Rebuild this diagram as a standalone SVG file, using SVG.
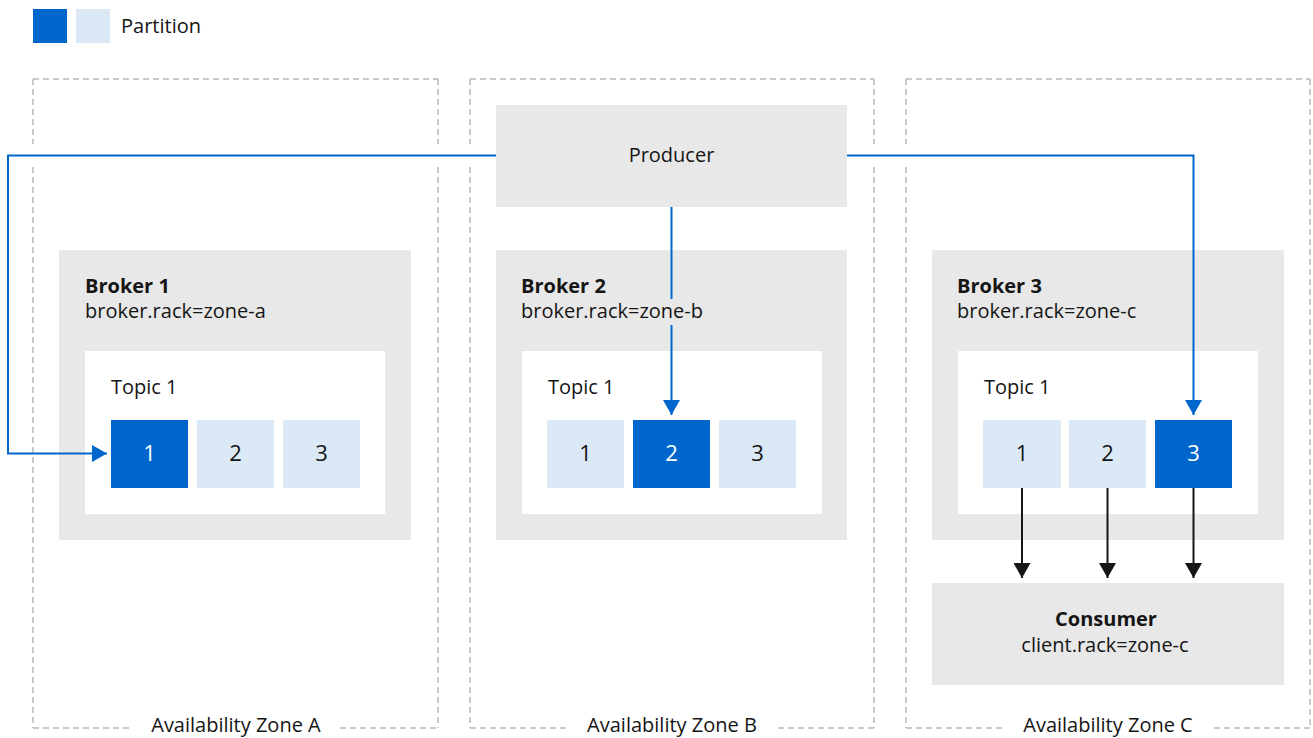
<svg xmlns="http://www.w3.org/2000/svg" width="1313" height="738" viewBox="0 0 1313 738">
  <style>
    text { font-family: "Open Sans", "Noto Sans", sans-serif; fill: #151515; font-weight: 500; }
    .lbl { font-size: 20px; }
    .bold { font-size: 20px; font-weight: 700; }
    .num { font-size: 22px; text-anchor: middle; }
    .numw { font-size: 22px; text-anchor: middle; fill: #ffffff; }
    .mid { text-anchor: middle; }
    .zone { fill: none; stroke: #b8b8b8; stroke-width: 1.5; stroke-dasharray: 6 4; }
    .gray { fill: #e8e8e8; }
    .white { fill: #ffffff; }
    .dark { fill: #0066cc; }
    .light { fill: #dbe8f6; }
    .blue { fill: none; stroke: #0066cc; stroke-width: 2; }
    .black { fill: none; stroke: #151515; stroke-width: 2; }
  </style>
  <defs>
    <marker id="ab" markerUnits="userSpaceOnUse" markerWidth="16" markerHeight="17" refX="15" refY="8.5" orient="auto">
      <path d="M0,0 L15,8.5 L0,17 Z" fill="#0066cc"/>
    </marker>
    <marker id="ak" markerUnits="userSpaceOnUse" markerWidth="16" markerHeight="17" refX="15" refY="8.5" orient="auto">
      <path d="M0,0 L15,8.5 L0,17 Z" fill="#151515"/>
    </marker>
  </defs>
  <rect width="1313" height="738" fill="#ffffff"/>

  <g id="legend">
    <rect class="dark" x="33" y="9" width="34" height="34"/>
    <rect class="light" x="76" y="9" width="34" height="34"/>
    <text class="lbl" x="121" y="33">Partition</text>
  </g>

  <g id="zone-a">
    <path class="zone" d="M33,79 H438 M33,79 V144 M33,167 V728 M438,79 V144 M438,167 V728 M33,728 H130 M340,728 H438"/>
    <text class="lbl mid" x="236" y="732">Availability Zone A</text>
  </g>
  <g id="zone-b">
    <path class="zone" d="M470,79 H874 M470,79 V144 M470,167 V728 M874,79 V144 M874,167 V728 M470,728 H566 M778,728 H874"/>
    <text class="lbl mid" x="672" y="732">Availability Zone B</text>
  </g>
  <g id="zone-c">
    <path class="zone" d="M906,79 H1310 M906,79 V144 M906,167 V728 M1310,79 V728 M906,728 H1002 M1214,728 H1310"/>
    <text class="lbl mid" x="1108" y="732">Availability Zone C</text>
  </g>

  <g id="producer">
    <rect class="gray" x="496" y="105" width="351" height="102"/>
    <text class="lbl mid" x="671.5" y="162">Producer</text>
  </g>

  <g id="broker-1">
    <rect class="gray" x="59" y="250" width="352" height="290"/>
    <text class="bold" x="85" y="293">Broker 1</text>
    <text class="lbl" x="85" y="318">broker.rack=zone-a</text>
    <rect class="white" x="85" y="351" width="300" height="163"/>
    <text class="lbl" x="111" y="394">Topic 1</text>
    <rect class="dark" x="111" y="420" width="77" height="68"/>
    <text class="numw" x="149.5" y="461">1</text>
    <rect class="light" x="197" y="420" width="77" height="68"/>
    <text class="num" x="235.5" y="461">2</text>
    <rect class="light" x="283" y="420" width="77" height="68"/>
    <text class="num" x="321.5" y="461">3</text>
  </g>

  <g id="broker-2">
    <rect class="gray" x="496" y="250" width="351" height="290"/>
    <text class="bold" x="521" y="293">Broker 2</text>
    <text class="lbl" x="521" y="318">broker.rack=zone-b</text>
    <rect class="white" x="522" y="351" width="300" height="163"/>
    <text class="lbl" x="548" y="394">Topic 1</text>
    <rect class="light" x="547" y="420" width="77" height="68"/>
    <text class="num" x="585.5" y="461">1</text>
    <rect class="dark" x="633" y="420" width="77" height="68"/>
    <text class="numw" x="671.5" y="461">2</text>
    <rect class="light" x="719" y="420" width="77" height="68"/>
    <text class="num" x="757.5" y="461">3</text>
  </g>

  <g id="broker-3">
    <rect class="gray" x="932" y="250" width="352" height="290"/>
    <text class="bold" x="957" y="293">Broker 3</text>
    <text class="lbl" x="957" y="318">broker.rack=zone-c</text>
    <rect class="white" x="958" y="351" width="300" height="163"/>
    <text class="lbl" x="984" y="394">Topic 1</text>
    <rect class="light" x="983" y="420" width="78" height="68"/>
    <text class="num" x="1022" y="461">1</text>
    <rect class="light" x="1069" y="420" width="77" height="68"/>
    <text class="num" x="1107.5" y="461">2</text>
    <rect class="dark" x="1155" y="420" width="77" height="68"/>
    <text class="numw" x="1193.5" y="461">3</text>
  </g>

  <g id="consumer">
    <rect class="gray" x="932" y="583" width="352" height="102"/>
    <text class="bold mid" x="1106" y="626">Consumer</text>
    <text class="lbl mid" x="1105" y="652">client.rack=zone-c</text>
  </g>

  <g id="connectors">
    <path class="blue" d="M496,155.5 H8 V453.5 H107" marker-end="url(#ab)"/>
    <path class="blue" d="M671.5,207 V299"/>
    <path class="blue" d="M671.5,325 V415" marker-end="url(#ab)"/>
    <path class="blue" d="M847,155.5 H1193.5 V415" marker-end="url(#ab)"/>
    <path class="black" d="M1022,488 V578" marker-end="url(#ak)"/>
    <path class="black" d="M1107.5,488 V578" marker-end="url(#ak)"/>
    <path class="black" d="M1193.5,488 V578" marker-end="url(#ak)"/>
  </g>
</svg>
